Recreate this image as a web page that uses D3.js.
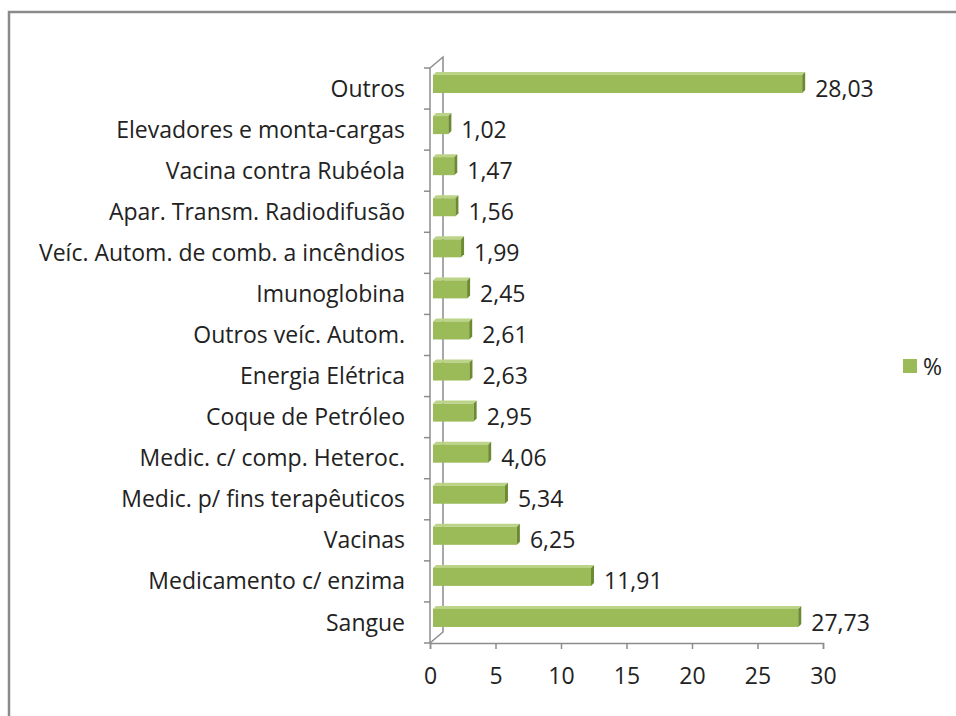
<!DOCTYPE html>
<html>
<head>
<meta charset="utf-8" />
<title>Produtos</title>
<script src="https://d3js.org/d3.v7.min.js"></script>
<style>
  body { margin: 0; background: #fff; }
  text { font-family: "Open Sans", "DejaVu Sans", sans-serif; fill: #222; }
</style>
</head>
<body>
<div id="the-chart"></div>
<script>
// categories, bottom to top as in the chart
var categories = ["Sangue", "Medicamento c/ enzima", "Vacinas", "Medic. p/ fins terapêuticos",
    "Medic. c/ comp. Heteroc.", "Coque de Petróleo", "Energia Elétrica", "Outros veíc. Autom.",
    "Imunoglobina", "Veíc. Autom. de comb. a incêndios", "Apar. Transm. Radiodifusão",
    "Vacina contra Rubéola", "Elevadores e monta-cargas", "Outros"];
var values = [27.73, 11.91, 6.25, 5.34, 4.06, 2.95, 2.63, 2.61, 2.45, 1.99, 1.56, 1.47, 1.02, 28.03];
var labels = ["27,73", "11,91", "6,25", "5,34", "4,06", "2,95", "2,63", "2,61", "2,45", "1,99", "1,56", "1,47", "1,02", "28,03"];
var xTicks = [0, 5, 10, 15, 20, 25, 30];
var seriesName = "%";

var W = 956, H = 716, fontSize = "23px";
var svg = d3.select("#the-chart").append("svg")
    .attr("width", W)
    .attr("height", H);

// outer frame
svg.append("path")
    .attr("d", "M9,716 V12 H956")
    .attr("fill", "none")
    .attr("stroke", "#8a8a8a")
    .attr("stroke-width", 2.5);

var front = { left: 430, right: 823, top: 68, bottom: 643 },
    depth = { dx: 13, dy: -11 };

var x = d3.scaleLinear().domain([0, 30]).range([front.left, front.right]);
var y = d3.scaleBand()
    .domain(categories.slice().reverse())
    .range([front.top, front.bottom]);

var axisColor = "#8c8c8c";

// back wall line and floor diagonal
svg.append("path")
    .attr("d", "M" + front.left + "," + front.top +
        " L" + (front.left + depth.dx) + "," + (front.top + depth.dy) +
        " V" + (front.bottom + depth.dy) +
        " L" + front.left + "," + front.bottom)
    .attr("fill", "none")
    .attr("stroke", axisColor)
    .attr("stroke-width", 1.5);

// x axis
var gx = svg.append("g")
    .attr("transform", "translate(0," + front.bottom + ")")
    .call(d3.axisBottom(x).tickValues(xTicks).tickSize(6).tickPadding(19).tickFormat(d3.format("d")));
gx.select(".domain").attr("stroke", axisColor).attr("stroke-width", 1.5);
gx.selectAll(".tick line").attr("stroke", axisColor).attr("stroke-width", 1.5);
gx.selectAll(".tick text").style("font-size", fontSize).style("font-family", "'Open Sans', sans-serif").attr("fill", "#222");

// y axis (front)
var yEdges = categories.map(function (d) { return y(d); }).concat([front.bottom]);
svg.append("line")
    .attr("x1", front.left).attr("x2", front.left)
    .attr("y1", front.top).attr("y2", front.bottom)
    .attr("stroke", axisColor).attr("stroke-width", 1.5);
svg.selectAll("line.ytick")
    .data(yEdges)
    .enter().append("line")
    .attr("class", "ytick")
    .attr("x1", front.left - 6).attr("x2", front.left)
    .attr("y1", function (d) { return d; }).attr("y2", function (d) { return d; })
    .attr("stroke", axisColor).attr("stroke-width", 1.5);

// category labels
svg.selectAll("text.cat")
    .data(categories)
    .enter().append("text")
    .attr("class", "cat")
    .attr("x", 405)
    .attr("y", function (d) { return y(d) + y.bandwidth() / 2; })
    .attr("dy", "0.35em")
    .attr("text-anchor", "end")
    .style("font-size", fontSize)
    .text(function (d) { return d; });

// 3D bars
var barH = 18, off = 3, barShift = -4.5;
var xv = d3.scaleLinear().domain([0, 30]).range([front.left + 5, front.right + 5]);
var bars = svg.selectAll("g.bar")
    .data(values)
    .enter().append("g")
    .attr("class", "bar");

function barTop(i) { return y(categories[i]) + y.bandwidth() / 2 + barShift - barH / 2; }
var bx0 = front.left + 3;

// top face
bars.append("path")
    .attr("d", function (d, i) {
        var t = barTop(i), x1 = xv(d);
        return "M" + bx0 + "," + t + " L" + (bx0 + off) + "," + (t - off) +
            " L" + (x1 + off) + "," + (t - off) + " L" + x1 + "," + t + "Z";
    })
    .attr("fill", "#bcd488");
// front face
bars.append("rect")
    .attr("x", bx0)
    .attr("y", function (d, i) { return barTop(i); })
    .attr("width", function (d) { return xv(d) - bx0; })
    .attr("height", barH)
    .attr("fill", "#9bbb59");
// right side face
bars.append("path")
    .attr("d", function (d, i) {
        var t = barTop(i), x1 = xv(d);
        return "M" + x1 + "," + t + " L" + (x1 + off) + "," + (t - off) +
            " L" + (x1 + off) + "," + (t - off + barH) + " L" + x1 + "," + (t + barH) + "Z";
    })
    .attr("fill", "#6c8a32");

// value labels
svg.selectAll("text.val")
    .data(values)
    .enter().append("text")
    .attr("class", "val")
    .attr("x", function (d) { return xv(d) + off + 10; })
    .attr("y", function (d, i) { return y(categories[i]) + y.bandwidth() / 2; })
    .attr("dy", "0.35em")
    .style("font-size", fontSize)
    .text(function (d, i) { return labels[i]; });

// legend
svg.append("rect")
    .attr("x", 903).attr("y", 359)
    .attr("width", 14).attr("height", 14)
    .attr("fill", "#9bbb59");
svg.append("text")
    .attr("x", 923).attr("y", 367)
    .attr("dy", "0.35em")
    .style("font-size", fontSize)
    .text(seriesName);
</script>
</body>
</html>
